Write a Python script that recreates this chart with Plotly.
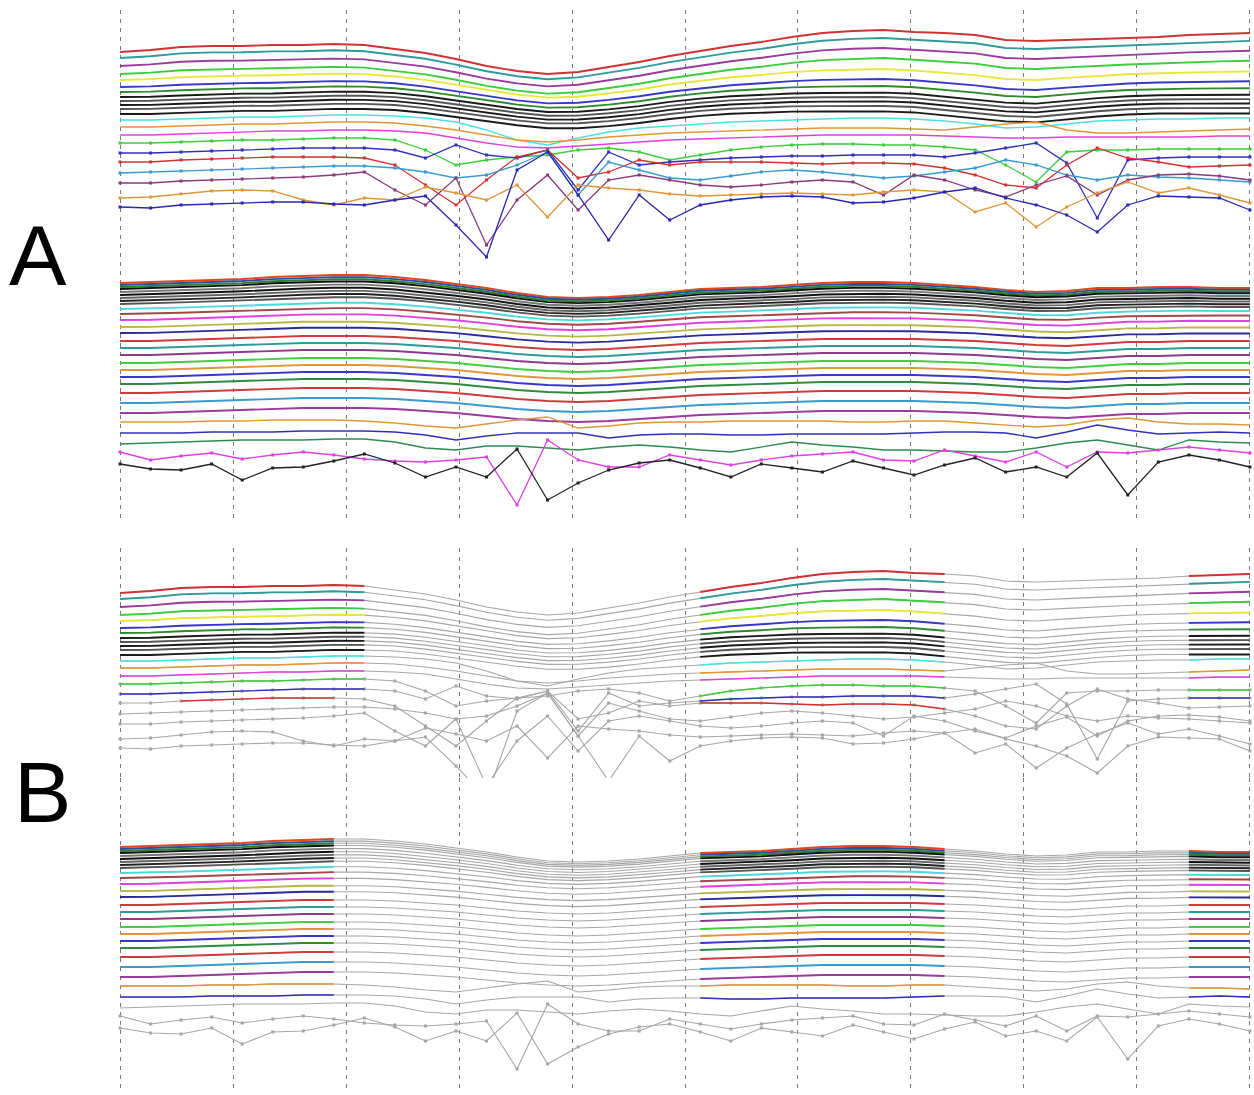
import plotly.graph_objects as go

# ---------------- data (y in image-row units, x = sample index) ----------------
X = list(range(38))
GRID_TICKS = [0, 3.7, 7.4, 11.1, 14.8, 18.5, 22.2, 25.9, 29.6, 33.3, 37.0]

# upper band: shape of its top boundary and of its middle (offset from left edge)
UP_TOP = [0, -2, -5, -6, -6, -7, -7, -8, -7, -3, 1, 7, 14, 19, 22, 20, 15, 10, 4, -1,
          -6, -10, -15, -19, -21, -22, -20, -19, -17, -12, -11, -12, -13, -14, -15, -17, -18, -19]
UP_MID = [0, 0, -1, -2, -3, -3, -4, -5, -5, -4, -1, 3, 7, 11, 14, 14, 12, 9, 5, 2,
          0, -1, -2, -2, -2, -2, -1, 2, 5, 8, 9, 6, 3, 1, 0, 0, 0, 0]
UP_BASE = [52, 58, 66, 74, 80, 87, 92, 97, 101, 105, 109, 114]
UP_WEIGHT = [1.0, 0.9, 0.8, 0.7, 0.45, 0.3, 0.2, 0.12, 0.1, 0.08, 0.05, 0.03]

UP_CYAN = [120, 120, 119, 118, 117, 117, 116, 115, 115, 116, 118, 122, 130, 140, 145, 138, 132, 128, 126, 124,
           122, 121, 120, 119, 118, 118, 119, 121, 124, 128, 127, 124, 121, 120, 119, 119, 118, 118]
UP_ORANGE = [127, 127, 126, 125, 124, 124, 123, 122, 122, 123, 126, 130, 135, 140, 142, 140, 137, 135, 133, 132,
             131, 130, 129, 128, 128, 128, 129, 130, 127, 124, 122, 130, 133, 133, 132, 131, 130, 129]
UP_MAGENTA = [135, 135, 134, 133, 132, 131, 131, 130, 130, 131, 133, 138, 143, 147, 148, 146, 144, 142, 140, 139,
              138, 137, 136, 135, 135, 135, 135, 136, 137, 138, 138, 137, 137, 137, 137, 137, 136, 136]
UP_GREEN = [143, 143, 142, 141, 140, 140, 139, 138, 138, 140, 150, 165, 160, 157, 155, 150, 148, 152, 160, 155,
            150, 147, 145, 144, 144, 145, 145, 147, 150, 165, 182, 152, 150, 150, 149, 149, 149, 149]
UP_BLUE1 = [153, 153, 152, 151, 150, 149, 148, 148, 148, 150, 158, 145, 155, 158, 150, 190, 152, 165, 162, 160,
            158, 157, 156, 156, 155, 155, 155, 157, 153, 148, 143, 163, 218, 160, 158, 157, 157, 157]
UP_RED = [162, 162, 160, 159, 158, 157, 157, 157, 158, 165, 185, 205, 180, 157, 150, 178, 172, 160, 165, 162,
          162, 162, 163, 164, 163, 163, 164, 168, 175, 185, 188, 165, 148, 158, 162, 167, 166, 165]
UP_STEEL = [173, 172, 171, 170, 169, 168, 167, 166, 166, 168, 172, 178, 175, 165, 152, 195, 162, 170, 178, 180,
            176, 172, 170, 172, 175, 178, 176, 172, 168, 160, 165, 175, 180, 175, 177, 178, 180, 182]
UP_MAROON = [183, 183, 181, 180, 179, 178, 177, 175, 172, 190, 205, 178, 245, 200, 175, 210, 180, 175, 180, 185,
             187, 185, 182, 180, 182, 195, 175, 180, 190, 197, 185, 176, 195, 180, 175, 174, 176, 180]
UP_ORANGE2 = [198, 197, 194, 191, 190, 191, 200, 205, 198, 200, 187, 193, 200, 185, 217, 185, 188, 190, 194, 196,
              195, 194, 193, 194, 195, 192, 190, 192, 212, 203, 227, 207, 193, 182, 193, 188, 195, 203]
UP_BLUE2 = [207, 208, 205, 204, 203, 202, 202, 204, 205, 200, 196, 225, 257, 170, 152, 195, 240, 195, 220, 205,
            200, 197, 196, 197, 203, 202, 198, 192, 188, 198, 205, 215, 232, 205, 196, 197, 198, 210]

# lower band
LO_TOP = [0, -1, -2, -3, -4, -6, -7, -8, -8, -6, -3, 1, 5, 10, 14, 15, 14, 12, 9, 6,
          5, 4, 2, 0, -1, -1, 0, 2, 4, 7, 9, 8, 5, 5, 4, 4, 5, 5]
LO_MID = [0, 0, -1, -2, -3, -4, -5, -5, -5, -4, -2, 0, 3, 6, 8, 9, 8, 6, 4, 2,
          1, 0, -1, -2, -2, -2, -2, -1, 0, 2, 4, 5, 3, 1, 1, 0, 0, 0]
LO_BASE = [283, 285, 287, 289, 292, 295, 298, 301, 304, 309, 314, 320, 327, 333,
           341, 348, 355, 363, 370, 377, 384, 393, 403, 413]
LO_WEIGHT = [1.0, 0.95, 0.9, 0.85, 0.8, 0.75, 0.7, 0.65, 0.6, 0.4, 0.3, 0.2, 0.1, 0.1,
             0, 0, 0, 0, 0, 0, 0, 0, 0, 0]

LO_ORANGE = [422, 422, 422, 421, 421, 420, 420, 420, 421, 423, 426, 428, 424, 420, 417, 428, 426, 423, 422, 422,
             421, 421, 421, 421, 422, 422, 421, 421, 423, 425, 427, 425, 420, 418, 422, 424, 424, 425]
LO_BLUE = [433, 433, 433, 432, 432, 432, 431, 431, 431, 432, 435, 440, 436, 433, 433, 433, 438, 435, 434, 434,
           435, 435, 434, 434, 434, 434, 433, 432, 432, 433, 438, 432, 425, 430, 434, 433, 432, 433]
LO_DKGREEN = [444, 443, 442, 441, 440, 440, 440, 439, 439, 442, 448, 450, 446, 446, 448, 450, 447, 445, 447, 450,
              452, 447, 442, 445, 447, 450, 450, 451, 452, 452, 448, 443, 440, 445, 450, 440, 442, 443]
LO_MAGENTA = [452, 460, 456, 453, 459, 455, 452, 455, 459, 461, 462, 460, 457, 505, 440, 460, 467, 467, 455, 460,
              465, 460, 456, 454, 452, 460, 461, 450, 456, 462, 452, 467, 452, 453, 450, 447, 450, 453]
LO_BLACK = [464, 469, 470, 464, 480, 468, 467, 461, 454, 463, 477, 467, 477, 449, 500, 483, 470, 463, 460, 468,
            477, 464, 468, 472, 461, 468, 475, 465, 458, 472, 467, 477, 453, 495, 462, 455, 460, 467]

# ---------------- styles ----------------
UP_SMOOTH_COLORS = ['#d03232', '#2f9a9a', '#9a3a9a', '#3ccc3c', '#e8e83a', '#3838c8', '#2f8a2f',
                    '#1a1a1a', '#555555', '#1a1a1a', '#555555', '#1a1a1a']
UP_EXPL = [(UP_CYAN, '#4de0e0', False), (UP_ORANGE, '#e0963a', False), (UP_MAGENTA, '#e040e0', False),
           (UP_GREEN, '#3ccc3c', True), (UP_BLUE1, '#3030b8', True), (UP_RED, '#d03232', True),
           (UP_STEEL, '#3a9ad0', True), (UP_MAROON, '#8a3a7a', True), (UP_ORANGE2, '#e0963a', True),
           (UP_BLUE2, '#2828b0', True)]
LO_SMOOTH_COLORS = ['#e2461e', '#2a4f9e', '#2e7d32', '#111111', '#777777', '#111111', '#666666', '#222222',
                    '#555555', '#4dd8e0', '#a04848', '#e040e0', '#b8b84a', '#2a2a9a', '#d03a3a', '#2f9a9a',
                    '#8a3a8a', '#44cc44', '#e0963a', '#3838c8', '#2f8a3f', '#d03a3a', '#3a9ad0', '#9a3a9a']
LO_EXPL = [(LO_ORANGE, '#e0963a', False), (LO_BLUE, '#3030b8', False), (LO_DKGREEN, '#2f8a4f', False),
           (LO_MAGENTA, '#e040e0', True), (LO_BLACK, '#222222', True)]

GRAY = '#a6a6a6'
UP_SPANS = [(0, 8), (19, 27), (35, 37)]
UP_RED_SPANS = [(2, 7), (19, 27)]
LO_SPANS = [(0, 7), (19, 27), (35, 37)]


def blend(base, w, top, mid):
    return [base + w * t + (1 - w) * m for t, m in zip(top, mid)]


up_lines = []  # (y, color, kind)  kind None = smooth boundary
for b, w, c in zip(UP_BASE, UP_WEIGHT, UP_SMOOTH_COLORS):
    up_lines.append((blend(b, w, UP_TOP, UP_MID), c, None))
for y, c, m in UP_EXPL:
    up_lines.append((y, c, m))

lo_lines = []
for b, w, c in zip(LO_BASE, LO_WEIGHT, LO_SMOOTH_COLORS):
    lo_lines.append((blend(b, w, LO_TOP, LO_MID), c, None))
for y, c, m in LO_EXPL:
    lo_lines.append((y, c, m))

fig = go.Figure()


def add(xs, ys, color, kind, xa, ya, width=None):
    mode = 'lines+markers' if kind else 'lines'
    if width is None:
        width = 1.9 if kind is None else 1.3
    fig.add_trace(go.Scatter(x=xs, y=ys, mode=mode, line=dict(color=color, width=width, shape='linear'),
                             marker=dict(size=3, symbol='square', color=color),
                             xaxis=xa, yaxis=ya, hoverinfo='skip'))


# Panel A
for y, c, k in up_lines:
    add(X, y, c, k, 'x', 'y')
for y, c, k in lo_lines:
    add(X, y, c, k, 'x', 'y')

# Panel B: everything gray, then coloured spans
for y, c, k in up_lines:
    add(X, y, GRAY, k, 'x2', 'y2', width=1.1)
for y, c, k in lo_lines:
    add(X, y, GRAY, k, 'x3', 'y3', width=1.1)

for y, c, k in up_lines[:17]:
    for a, b in UP_SPANS:
        add(X[a:b + 1], y[a:b + 1], c, k if k is None else False, 'x2', 'y2')
red = up_lines[17]
for a, b in UP_RED_SPANS:
    add(X[a:b + 1], red[0][a:b + 1], red[1], False, 'x2', 'y2')
for y, c, k in lo_lines[:26]:
    for a, b in LO_SPANS:
        add(X[a:b + 1], y[a:b + 1], c, k if k is None else False, 'x3', 'y3')

xcommon = dict(domain=[0, 1], range=[-0.1, 37.1], tickvals=GRID_TICKS, showticklabels=False, ticks='',
               showgrid=True, gridcolor='#787878', gridwidth=1, griddash='4px,5px',
               zeroline=False, showline=False)
ycommon = dict(showgrid=False, zeroline=False, showticklabels=False, ticks='', showline=False)

fig.update_layout(
    width=1254, height=1095,
    margin=dict(l=117, r=1, t=0, b=0),
    paper_bgcolor='white', plot_bgcolor='white',
    showlegend=False,
    xaxis=dict(anchor='y', **xcommon),
    xaxis2=dict(anchor='y2', **xcommon),
    xaxis3=dict(anchor='y3', **xcommon),
    yaxis=dict(domain=[0.52329, 0.99087], range=[522, 10], anchor='x', **ycommon),
    yaxis2=dict(domain=[0.28950, 0.49954], range=[237, 7], anchor='x2', **ycommon),
    yaxis3=dict(domain=[0.00274, 0.28950], range=[528, 214], anchor='x3', **ycommon),
    annotations=[
        dict(text='A', x=-0.0695, y=0.7671, xref='paper', yref='paper', showarrow=False,
             xanchor='center', yanchor='middle',
             font=dict(family='Liberation Sans, Arial, sans-serif', size=86, color='black')),
        dict(text='B', x=-0.0660, y=0.2767, xref='paper', yref='paper', showarrow=False,
             xanchor='center', yanchor='middle',
             font=dict(family='Liberation Sans, Arial, sans-serif', size=86, color='black')),
    ],
)

fig.write_html('out.html', config={'displayModeBar': False},
               post_script="document.body.style.margin='0';")
